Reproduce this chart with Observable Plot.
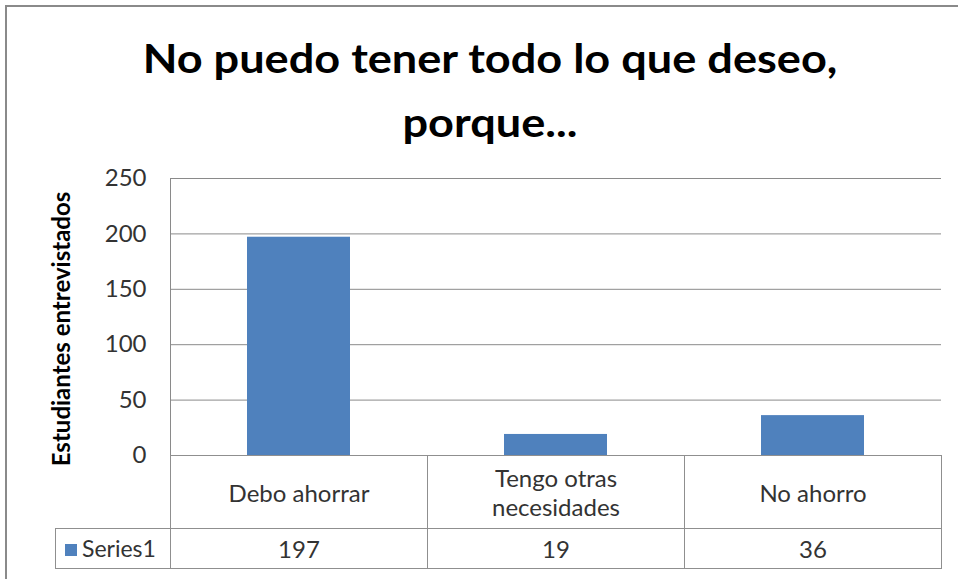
<!DOCTYPE html>
<html>
<head>
<meta charset="utf-8">
<script src="https://cdn.jsdelivr.net/npm/d3@7"></script>
<script src="https://cdn.jsdelivr.net/npm/@observablehq/plot@0.6"></script>
<style>
  body { margin: 0; background: #fff; }
  #wrap { position: relative; width: 958px; height: 579px; overflow: hidden; background: #fff; font-family: Lato, "Open Sans", sans-serif; }
  #frame { position: absolute; left: 5px; top: 5px; width: 1000px; height: 1000px; border-left: 2px solid #8a8a8a; border-top: 2px solid #8a8a8a; }
  .title { position: absolute; left: 0; width: 980px; text-align: center; font-weight: bold; font-size: 41px; color: #000; line-height: 1; white-space: nowrap; transform: scaleX(1.1); transform-origin: 490px 0; }
  #plot { position: absolute; left: 0; top: 0; }
  table { position: absolute; left: 55px; top: 455px; border-collapse: collapse; table-layout: fixed; font-size: 24px; color: #333; }
  td { border: 1px solid #8f8f8f; text-align: center; padding: 0 36px; box-sizing: border-box; line-height: 29px; }
  td.blank { border: none; border-right: 1px solid #8f8f8f; border-bottom: 1px solid #8f8f8f; }
  td.series { padding: 0 0 0 9px; text-align: left; font-size: 23px; }
  .key { display: inline-block; width: 12px; height: 12px; background: #4F81BD; margin-right: 5px; vertical-align: 1px; }
</style>
</head>
<body>
<div id="wrap">
  <div id="frame"></div>
  <div class="title" id="t1" style="top:37px"></div>
  <div class="title" id="t2" style="top:101px"></div>
  <div id="plot"></div>
  <table id="tbl"></table>
</div>
<script>
const titleLines = ["No puedo tener todo lo que deseo,", "porque..."];
const yLabel = "Estudiantes entrevistados";
const categories = ["Debo ahorrar", "Tengo otras necesidades", "No ahorro"];
const seriesName = "Series1";
const values = [197, 19, 36];
const yTicks = [0, 50, 100, 150, 200, 250];
const barColor = "#4F81BD";

document.getElementById("t1").textContent = titleLines[0];
document.getElementById("t2").textContent = titleLines[1];

const data = categories.map((c, i) => ({cat: c, value: values[i]}));

const chart = Plot.plot({
  width: 958,
  height: 579,
  marginLeft: 170,
  marginRight: 17,
  marginTop: 178,
  marginBottom: 124,
  style: {background: "transparent", overflow: "visible", fontFamily: "Lato, 'Open Sans', sans-serif"},
  x: {domain: categories, paddingInner: 0.6, paddingOuter: 0.3, axis: null},
  y: {domain: [0, 250], axis: null},
  marks: [
    Plot.gridY(yTicks, {stroke: "#8a8a8a", strokeOpacity: 1}),
    Plot.axisY(yTicks, {tickSize: 0, tickPadding: 24, fontSize: 24, fill: "#333", label: null}),
    Plot.barY(data, {x: "cat", y: "value", fill: barColor}),
    Plot.frame({anchor: "left", stroke: "#8a8a8a"}),
    Plot.ruleY([0], {stroke: "#8a8a8a"}),
    Plot.text([yLabel], {text: d => d, frameAnchor: "left", textAnchor: "middle", rotate: -90, dx: -108, dy: 12, fontSize: 24, fontWeight: "bold", fill: "#000"})
  ]
});
document.getElementById("plot").appendChild(chart);

// data table below the plot, built from the same arrays
const tbl = d3.select("#tbl");
const colW = (958 - 170 - 17) / categories.length;
const r1 = tbl.append("tr").style("height", "73px");
r1.append("td").attr("class", "blank").style("width", "115px");
r1.selectAll("td.cat").data(categories).join("td").attr("class", "cat").style("width", colW + "px").text(d => d);
const r2 = tbl.append("tr").style("height", "40px");
const sc = r2.append("td").attr("class", "series");
sc.append("span").attr("class", "key");
sc.append("span").text(seriesName);
r2.selectAll("td.val").data(values).join("td").attr("class", "val").text(d => d);
</script>
</body>
</html>
